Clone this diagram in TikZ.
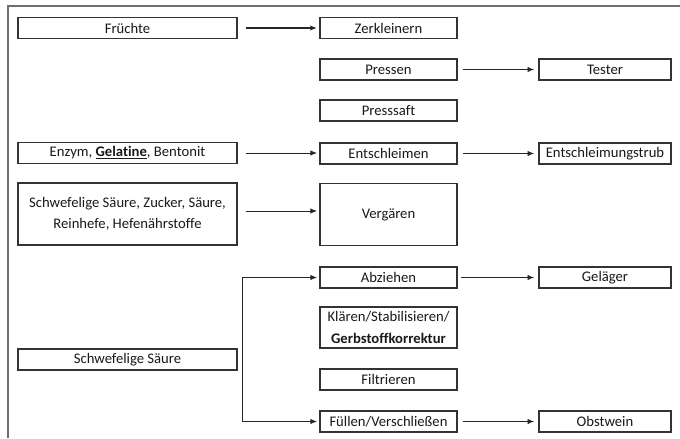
\documentclass[tikz,border=0pt]{standalone}
\usepackage{fontspec}
\setmainfont{Carlito}[Ligatures=NoCommon]
\usetikzlibrary{arrows.meta,calc}
\definecolor{Rahmen}{HTML}{6E6E6E}
\definecolor{Kasten}{HTML}{333333}

\begin{document}
\begin{tikzpicture}[x=0.75pt,y=-0.75pt,
    box/.style={draw=Kasten, line width=1.2pt, fill=white, inner sep=0pt,
      minimum height=15.75pt, align=center, text=black!90,
      font=\fontsize{11}{16}\selectfont},
    lbox/.style={box, minimum width=164pt},
    mbox/.style={box, minimum width=103pt},
    rbox/.style={box, minimum width=99pt},
    pfeil/.style={-{Latex[length=5pt,width=4pt]}, line width=0.6pt, draw=black!85}]
    \useasboundingbox (0,0) rectangle (680,438);

    % Rahmen oben und links
    \draw[Rahmen, line width=1.2pt] (8,438) -- (8,6) -- (680,6);

    % Zusaetze links
    \node[lbox] (frucht) at (127.5,28) {Früchte};
    \node[lbox] (enzym) at (127.5,153) {Enzym, \underline{\textbf{Gelatine}}, Bentonit};
    \node[lbox, minimum height=46.5pt] (zusatz) at (127.5,214)
      {Schwefelige Säure, Zucker, Säure,\\Reinhefe, Hefenährstoffe};
    \node[lbox] (schwef) at (127.5,359.5) {Schwefelige Säure};

    % Verfahrensschritte Mitte
    \node[mbox] (zerkl) at (388.5,28) {Zerkleinern};
    \node[mbox] (pressen) at (388.5,69.5) {Pressen};
    \node[mbox] (saft) at (388.5,110.5) {Presssaft};
    \node[mbox] (entschl) at (388.5,153.5) {Entschleimen};
    \node[mbox, minimum height=46.5pt] (vergaer) at (388.5,214.5) {Vergären};
    \node[mbox] (abzieh) at (388.5,277.5) {Abziehen};
    \node[mbox, minimum height=30.75pt] (klaer) at (388.5,327.5)
      {Klären/Stabilisieren/\\\textbf{Gerbstoffkorrektur}};
    \node[mbox] (filtr) at (388.5,379.5) {Filtrieren};
    \node[mbox] (fuell) at (388.5,421.5) {Füllen/Verschließen};

    % Produkte rechts
    \node[rbox] (tester) at (605,69.5) {Tester};
    \node[rbox] (trub) at (605,153.5) {Entschleimungstrub};
    \node[rbox] (gelaeger) at (605,277.5) {Geläger};
    \node[rbox] (obstwein) at (605,421.5) {Obstwein};

    % Pfeile links -> Mitte
    \draw[pfeil, line width=1pt, shorten <=6pt, shorten >=1.5pt] (frucht) -- (zerkl);
    \draw[pfeil, shorten <=6pt, shorten >=1.5pt] (enzym.east) -- (enzym.east -| entschl.west);
    \draw[pfeil, shorten <=6pt, shorten >=1.5pt] ($(zusatz.east)+(0,-3)$) -- ($(zusatz.east -| vergaer.west)+(0,-3)$);
    \coordinate (ast) at ($(schwef.east)+(5,0)$);
    \draw[pfeil, {Latex[length=5pt,width=4pt]}-{Latex[length=5pt,width=4pt]}, shorten <=1.5pt, shorten >=1.5pt]
      (abzieh.west) -- (ast |- abzieh) -- (ast |- fuell) -- (fuell.west);

    % Pfeile Mitte -> rechts
    \draw[pfeil, shorten <=4pt, shorten >=3pt] (pressen) -- (tester);
    \draw[pfeil, shorten <=4pt, shorten >=3pt] (entschl) -- (trub);
    \draw[pfeil, shorten <=2.5pt, shorten >=3pt] (abzieh) -- (gelaeger);
    \draw[pfeil, shorten <=4pt, shorten >=3pt] (fuell) -- (obstwein);
\end{tikzpicture}
\end{document}
